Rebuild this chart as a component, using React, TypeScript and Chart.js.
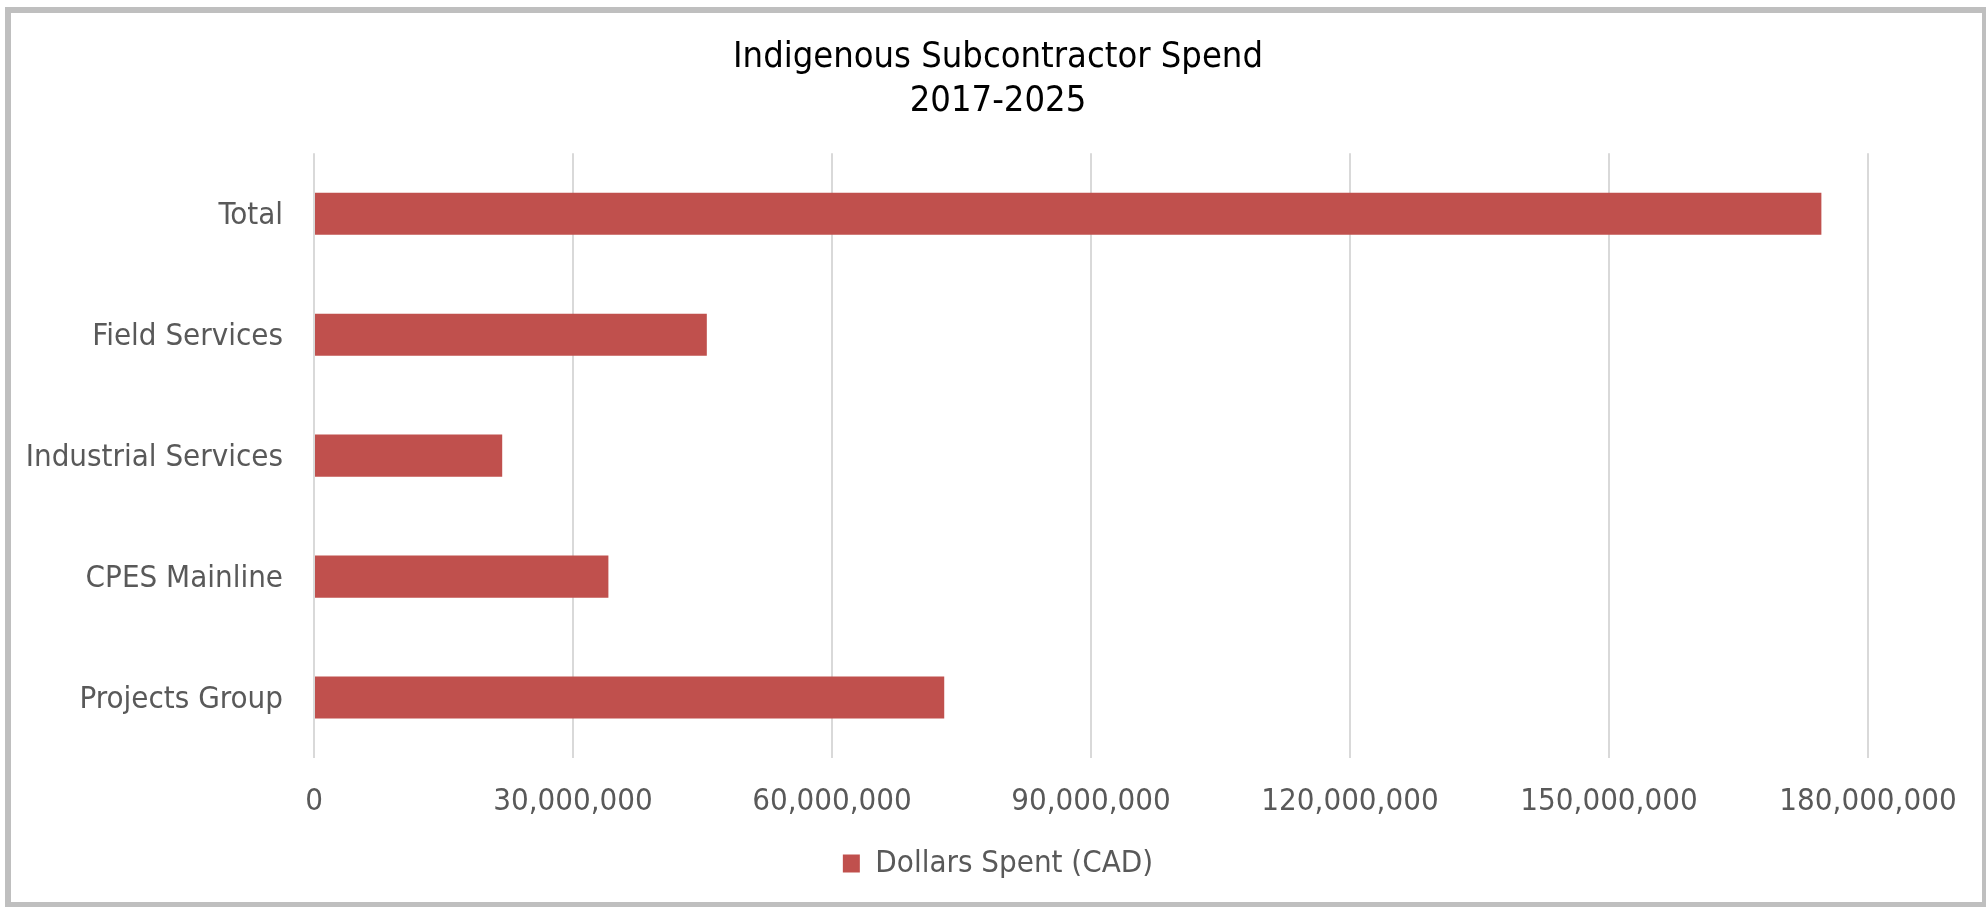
import React, { useEffect, useRef } from "react";
import { Chart, registerables } from "chart.js";

Chart.register(...registerables);

const categories = ["Total", "Field Services", "Industrial Services", "CPES Mainline", "Projects Group"];
const dollarsSpent = [174600000, 45500000, 21800000, 34100000, 73000000];
const seriesLabel = "Dollars Spent (CAD)";
const titleLines = ["Indigenous Subcontractor Spend", "2017-2025"];
const xMin = 0;
const xMax = 180000000;
const xStep = 30000000;

const FONT = "'DejaVu Sans Condensed', 'DejaVu Sans', sans-serif";
const W = 1986;
const H = 907;

const borderPlugin = {
  id: "outerBorder",
  afterDraw(chart: any) {
    const ctx = chart.ctx;
    ctx.save();
    ctx.strokeStyle = "#bfbfbf";
    ctx.lineWidth = 6;
    ctx.strokeRect(8, 10, 1977, 895);
    ctx.restore();
  },
};

export default function App() {
  const ref = useRef<HTMLCanvasElement | null>(null);
  useEffect(() => {
    if (!ref.current) return;
    const chart = new Chart(ref.current, {
      type: "bar",
      data: {
        labels: categories,
        datasets: [
          {
            label: seriesLabel,
            data: dollarsSpent,
            backgroundColor: "#C0504D",
            borderWidth: 0,
            barPercentage: 0.348,
            categoryPercentage: 1,
          },
        ],
      },
      options: {
        indexAxis: "y",
        responsive: false,
        animation: false,
        layout: { padding: { left: 10, right: 0, top: 0, bottom: 18 } },
        plugins: {
          title: {
            display: true,
            text: titleLines,
            color: "#000000",
            font: { family: FONT, size: 36, weight: "normal", lineHeight: 1.24 },
            padding: { top: 35, bottom: 29 },
          },
          legend: {
            display: true,
            position: "bottom",
            labels: {
              color: "#595959",
              font: { family: FONT, size: 31 },
              boxWidth: 17,
              boxHeight: 18,
              padding: 3,
            },
          },
          tooltip: { enabled: false },
        },
        scales: {
          x: {
            type: "linear",
            min: xMin,
            max: xMax,
            grid: { color: "#d9d9d9", lineWidth: 2, drawTicks: false },
            border: { display: false },
            ticks: {
              stepSize: xStep,
              color: "#595959",
              font: { family: FONT, size: 31, lineHeight: 1.0 },
              padding: 28,
              maxRotation: 0,
              callback: (v: any) => Number(v).toLocaleString("en-US"),
            },
            afterFit: (s: any) => {
              s.paddingRight = 118;
            },
          },
          y: {
            grid: { display: false, drawTicks: false },
            border: { display: false },
            ticks: {
              color: "#595959",
              font: { family: FONT, size: 31 },
              padding: 31,
              labelOffset: 2,
            },
            afterFit: (s: any) => {
              s.width = 304;
            },
          },
        },
      },
      plugins: [borderPlugin],
    });
    return () => chart.destroy();
  }, []);
  return (
    <div style={{ position: "absolute", left: 0, top: 0, width: W, height: H, background: "#ffffff" }}>
      <canvas ref={ref} width={W} height={H} style={{ width: W, height: H, display: "block" }} />
    </div>
  );
}
